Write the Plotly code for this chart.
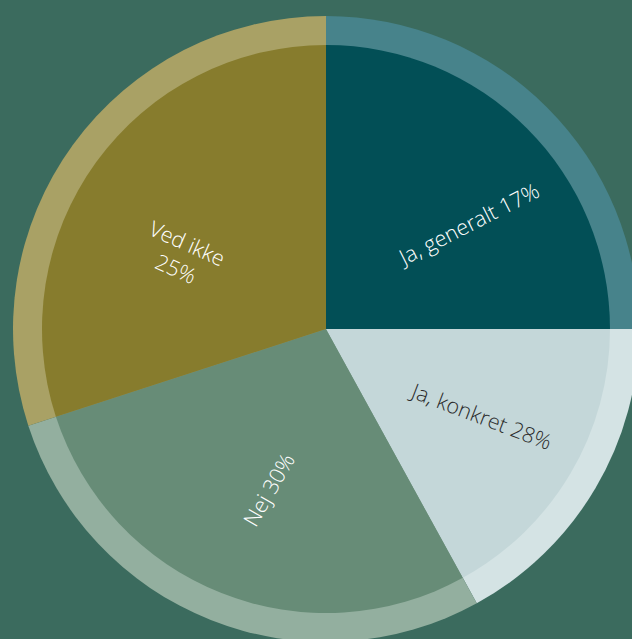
import plotly.graph_objects as go

# ---- data ----
categories = ["Ja, generalt", "Ja, konkret", "Nej", "Ved ikke"]
printed_pct = ["17%", "28%", "30%", "25%"]          # percentages as printed on the slices
slice_share = [25, 17, 28, 30]                        # angular share of each slice as drawn

# ---- styles ----
inner_colors = ["#024f56", "#c4d7d9", "#678c77", "#877c2d"]
ring_colors = ["#47838b", "#d4e3e4", "#93af9f", "#a9a165"]
text_colors = ["#ffffff", "#2b2b2b", "#ffffff", "#ffffff"]
bg = "#3b6b5e"

W, H = 660, 660
cx, cy = 326, 329          # pixel centre of the pie
R_out, R_in = 313, 284

# label placement (pixel offset from centre, text rotation in degrees)
label_offsets = [(142, -106), (155, 87), (-58, 160), (-144, -74)]
label_angles = [-27, 21, -60, 24]
FONT = "Open Sans"
FSIZE = 21.5


def dom(r):
    return dict(x=[(cx - r) / W, (cx + r) / W], y=[1 - (cy + r) / H, 1 - (cy - r) / H])


texts = []
for c, p in zip(categories, printed_pct):
    if c == "Ved ikke":
        texts.append(f"{c}<br>{p}")
    else:
        texts.append(f"{c} {p}")

fig = go.Figure()
fig.add_trace(go.Pie(
    labels=categories, values=slice_share, sort=False, direction="clockwise", rotation=0,
    marker=dict(colors=ring_colors, line=dict(width=0)),
    textinfo="none", hoverinfo="skip", domain=dom(R_out), showlegend=False,
))
fig.add_trace(go.Pie(
    labels=categories, values=slice_share, sort=False, direction="clockwise", rotation=0,
    marker=dict(colors=inner_colors, line=dict(width=0)),
    textinfo="none", hoverinfo="skip", domain=dom(R_in), showlegend=False,
))

for t, (dx, dy), ang, col in zip(texts, label_offsets, label_angles, text_colors):
    fig.add_annotation(
        x=(cx + dx) / W, y=1 - (cy + dy) / H, xref="paper", yref="paper",
        text=t, showarrow=False, textangle=ang, xanchor="center", yanchor="middle",
        font=dict(family=FONT, size=FSIZE, color=col, weight=300), align="center",
    )

fig.update_layout(
    width=W, height=H, margin=dict(l=0, r=0, t=0, b=0),
    paper_bgcolor=bg, plot_bgcolor=bg, showlegend=False,
)
fig.write_html(
    "out.html",
    post_script="document.documentElement.style.overflow='hidden';document.body.style.overflow='hidden';document.body.style.margin='0';",
)
